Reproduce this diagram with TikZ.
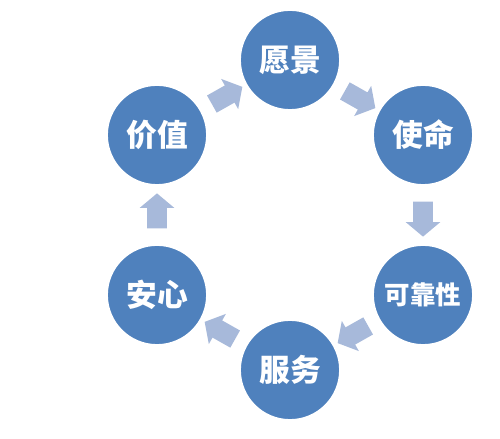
\documentclass[tikz,border=0pt]{standalone}
\usepackage{fontspec}
\usepackage{tikz}
\usepackage{xcolor}
\usetikzlibrary{shapes.arrows, calc}
\newfontfamily\cjk{Noto Sans CJK SC}
\definecolor{cBlue}{HTML}{4F81BD}
\definecolor{cArrow}{HTML}{A7B9DA}

\begin{document}
\begin{tikzpicture}[x=0.02cm, y=0.02cm,
  stage/.style={circle, fill=cBlue, draw=white, line width=1pt,
                minimum size=2cm, inner sep=0pt, text=white,
                font=\cjk\bfseries\fontsize{17.5}{17.5}\selectfont},
  flow/.style={single arrow, fill=cArrow, draw=none,
               inner xsep=0pt, inner ysep=0.19cm,
               minimum height=0.7cm,
               single arrow head extend=0.15cm, single arrow tip angle=100,
               sloped, allow upside down},
]
  \useasboundingbox (0,0) rectangle (500,439);

  % STAGES
  \node[stage] (vision)  at (290, 379) {愿景};
  \node[stage] (mission) at (423, 304) {使命};
  \node[stage, font=\cjk\bfseries\fontsize{14.5}{14.5}\selectfont] (reliab) at (423, 144) {可靠性};
  \node[stage] (service) at (290, 69) {服务};
  \node[stage] (assure)  at (157, 144) {安心};
  \node[stage] (value)   at (157, 304) {价值};

  % CYCLE
  \path (value)   -- node[flow] {} (vision);
  \path (vision)  -- node[flow] {} (mission);
  \path (mission) -- node[flow] {} (reliab);
  \path (reliab)  -- node[flow] {} (service);
  \path (service) -- node[flow] {} (assure);
  \path (assure)  -- node[flow] {} (value);
\end{tikzpicture}
\end{document}
